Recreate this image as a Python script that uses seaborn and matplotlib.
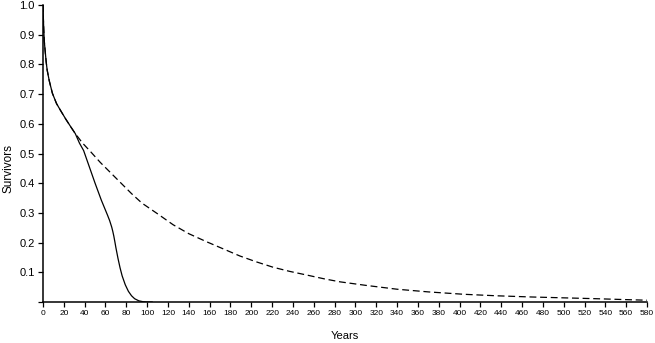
import matplotlib
matplotlib.use("Agg")
import matplotlib.pyplot as plt
import seaborn as sns
import pandas as pd

# Solid curve
solid_years = [0, 0.3, 0.7, 1.2, 2, 3, 4, 6, 9, 13, 17, 22, 27, 31, 35, 39, 44, 50, 56,
               62, 64, 66, 67, 68, 69, 70, 72, 74, 76, 79, 82, 85, 88, 92, 96, 100, 105]
solid_surv = [1.0, 0.96, 0.92, 0.88, 0.848, 0.81, 0.781, 0.745, 0.703, 0.668, 0.644, 0.615,
              0.588, 0.567, 0.535, 0.51, 0.46, 0.40, 0.343, 0.292, 0.274, 0.252, 0.238,
              0.222, 0.203, 0.183, 0.147, 0.115, 0.088, 0.058, 0.036, 0.021, 0.011, 0.004,
              0.001, 0.0, 0.0]

# Dashed curve (shares the first part with solid)
dash_years = [0, 0.3, 0.7, 1.2, 2, 3, 4, 6, 9, 13, 17, 22, 27, 31, 38, 46, 55, 65, 75, 85,
              95, 110, 125, 140, 157, 175, 189, 205, 221, 237, 253, 270, 285, 310, 340,
              370, 404, 435, 468, 500, 532, 560, 580]
dash_surv = [1.0, 0.96, 0.92, 0.88, 0.848, 0.81, 0.781, 0.745, 0.703, 0.668, 0.644, 0.615,
             0.588, 0.567, 0.535, 0.505, 0.47, 0.435, 0.40, 0.365, 0.333, 0.297, 0.26, 0.23,
             0.203, 0.176, 0.155, 0.135, 0.117, 0.103, 0.091, 0.078, 0.068, 0.056, 0.043,
             0.034, 0.026, 0.021, 0.017, 0.014, 0.011, 0.008, 0.006]

x_ticks = list(range(0, 581, 20))
y_ticks = [0, 0.1, 0.2, 0.3, 0.4, 0.5, 0.6, 0.7, 0.8, 0.9, 1.0]
y_ticklabels = ["", "0.1", "0.2", "0.3", "0.4", "0.5", "0.6", "0.7", "0.8", "0.9", "1.0"]

sns.set_theme(style="ticks")
plt.rcParams['font.family'] = ['Liberation Sans', 'DejaVu Sans']

fig = plt.figure(figsize=(6.55, 3.43), dpi=100)
ax = fig.add_axes([43 / 655, 41 / 343, 604 / 655, 297 / 343])

df_s = pd.DataFrame({"Years": solid_years, "Survivors": solid_surv})
df_d = pd.DataFrame({"Years": dash_years, "Survivors": dash_surv})

sns.lineplot(data=df_d, x="Years", y="Survivors", ax=ax, color="black", lw=0.9,
             sort=False, estimator=None)
ax.lines[-1].set_dashes([5.5, 3])
sns.lineplot(data=df_s, x="Years", y="Survivors", ax=ax, color="black", lw=0.9,
             sort=False, estimator=None)

ax.set_xlim(0, 580)
ax.set_ylim(0, 1.0)
ax.set_xticks(x_ticks)
ax.set_xticklabels([str(t) for t in x_ticks], fontsize=6)
ax.set_yticks(y_ticks)
ax.set_yticklabels(y_ticklabels, fontsize=8)
ax.tick_params(axis="both", direction="out", length=3.5, width=0.9, colors="black", pad=2.5)

for s in ["top", "right"]:
    ax.spines[s].set_visible(False)
for s in ["left", "bottom"]:
    ax.spines[s].set_linewidth(1.1)
    ax.spines[s].set_color("black")

ax.set_xlabel("Years", fontsize=8, color="black", labelpad=10)
ax.set_ylabel("Survivors", fontsize=8.5, color="black")
ax.yaxis.set_label_coords(-0.048, 0.448)
ax.grid(False)

fig.savefig("out.png", dpi=100)
